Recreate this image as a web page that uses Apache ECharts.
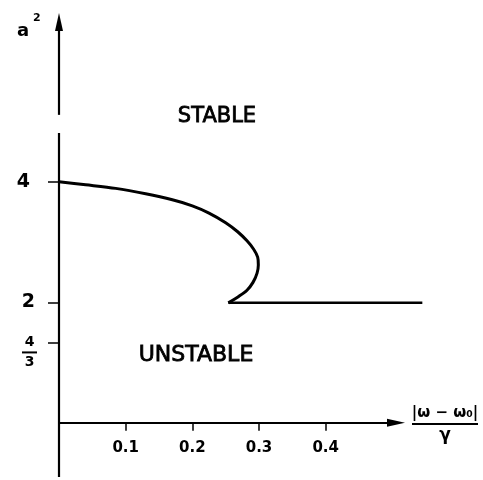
<!DOCTYPE html>
<html>
<head>
<meta charset="utf-8">
<script src="https://cdn.jsdelivr.net/npm/echarts@6/dist/echarts.min.js"></script>
<style>
  html, body { margin: 0; padding: 0; background: #fff; }
  #chart { width: 483px; height: 480px; }
</style>
</head>
<body>
<div id="chart"></div>
<script>
// amplitude a^2 along the stability boundary
const curveX = [0, 0.04, 0.085, 0.13, 0.17, 0.2, 0.225, 0.25, 0.268, 0.282, 0.292, 0.298, 0.299, 0.297, 0.291, 0.282, 0.27, 0.254]
const curveY = [4.0, 3.95, 3.89, 3.8, 3.7, 3.6, 3.48, 3.32, 3.17, 3.02, 2.88, 2.75, 2.62, 2.48, 2.33, 2.2, 2.1, 1.99]
const flatX = [0.254, 0.545]
const flatY = [1.99, 1.99]

const xTicks = [0.1, 0.2, 0.3, 0.4]
const yTicks = [4 / 3, 2, 4]

const font = 'DejaVu Sans'

const yMin = -0.9
const yMax = 6.9
const gridTop = 7
const gridH = 470
// x axis sits on a^2 = 0, lift it up from the grid bottom
const xOffset = -(gridH * (0 - yMin) / (yMax - yMin))

const chart = echarts.init(document.getElementById('chart'))

const yLabel = (v) => {
  if (Math.abs(v - 4) < 1e-6) return '{big4|4}'
  if (Math.abs(v - 2) < 1e-6) return '{big2|2}'
  return '{sp|}\n{num|4}\n{bar|}\n{num|3}'
}

const option = {
  animation: false,
  grid: { left: 59, top: gridTop, width: 400, height: gridH, outerBoundsMode: 'none' },
  xAxis: {
    type: 'value',
    min: 0,
    max: 0.6,
    position: 'bottom',
    offset: xOffset,
    axisLine: { show: false, onZero: false },
    splitLine: { show: false },
    axisTick: { show: true, customValues: xTicks, length: 8, lineStyle: { color: '#000', width: 1.5 } },
    axisLabel: {
      show: true,
      customValues: xTicks,
      formatter: (v) => String(v),
      color: '#000',
      fontFamily: font,
      fontWeight: 'bold',
      fontSize: 15,
      margin: 18
    }
  },
  yAxis: {
    type: 'value',
    min: yMin,
    max: yMax,
    axisLine: { show: false, onZero: false },
    splitLine: { show: false },
    axisTick: { show: true, customValues: yTicks, length: 11, lineStyle: { color: '#000', width: 1.5 } },
    axisLabel: {
      customValues: yTicks,
      formatter: yLabel,
      margin: 22,
      color: '#000',
      rich: {
        big4: { fontFamily: font, fontSize: 19, fontWeight: 'bold', color: '#000', padding: [0, 7, 0, 0] },
        big2: { fontFamily: font, fontSize: 19, fontWeight: 'bold', color: '#000', padding: [0, 2, 0, 0] },
        sp: { height: 1, lineHeight: 20 },
        num: { fontFamily: font, fontSize: 14, fontWeight: 'bold', color: '#000', align: 'center', width: 15, lineHeight: 15 },
        bar: { width: 15, height: 2, lineHeight: 5, backgroundColor: '#000' }
      }
    }
  },
  graphic: [
    { type: 'text', left: 17, top: 22, style: { text: 'a', font: 'bold 18px "DejaVu Sans"', fill: '#000' } },
    { type: 'text', left: 33, top: 13, style: { text: '2', font: 'bold 11px "DejaVu Sans"', fill: '#000' } },
    { type: 'text', x: 217, y: 117, style: { text: 'STABLE', font: '21px "DejaVu Sans"', fill: '#000', stroke: '#000', lineWidth: 0.8, align: 'center', verticalAlign: 'middle' } },
    { type: 'text', x: 196, y: 355, style: { text: 'UNSTABLE', font: '22px "DejaVu Sans"', fill: '#000', stroke: '#000', lineWidth: 0.8, align: 'center', verticalAlign: 'middle' } },
    {
      type: 'text', x: 445, y: 425,
      style: {
        text: '{n||ω − ω₀|}\n{bar|}\n{d|γ}',
        align: 'center',
        verticalAlign: 'middle',
        rich: {
          n: { fontFamily: font, fontSize: 15, fontWeight: 'bold', fill: '#000', align: 'center', lineHeight: 17 },
          bar: { width: 66, height: 2, lineHeight: 4, backgroundColor: '#000', align: 'center' },
          d: { fontFamily: font, fontSize: 17, fontWeight: 'bold', fill: '#000', align: 'center', lineHeight: 19 }
        }
      }
    }
  ],
  series: [
    {
      type: 'line',
      data: curveX.map((x, i) => [x, curveY[i]]),
      smooth: 0.3,
      showSymbol: false,
      silent: true,
      lineStyle: { color: '#000', width: 3 }
    },
    {
      type: 'line',
      data: flatX.map((x, i) => [x, flatY[i]]),
      showSymbol: false,
      silent: true,
      lineStyle: { color: '#000', width: 2.5 },
      markLine: {
        silent: true,
        animation: false,
        label: { show: false },
        lineStyle: { color: '#000', width: 2.2, type: 'solid' },
        symbolSize: [8, 18],
        data: [
          [{ coord: [0, 0], symbol: 'none' }, { coord: [0.5055, 0], symbol: 'triangle' }],
          [{ coord: [0, yMin], symbol: 'none' }, { coord: [0, 4.81], symbol: 'none' }],
          [{ coord: [0, 5.11], symbol: 'none' }, { coord: [0, 6.65], symbol: 'triangle' }]
        ]
      }
    }
  ]
}

chart.setOption(option)
window.addEventListener('resize', () => chart.resize())
</script>
</body>
</html>
